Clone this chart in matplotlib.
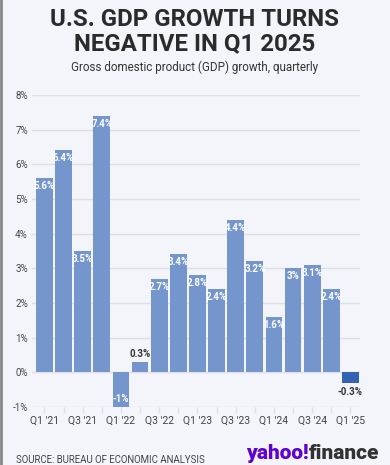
import matplotlib.pyplot as plt
import numpy as np

# quarterly GDP growth, annualized %
quarters = ["Q1 '21", "Q2 '21", "Q3 '21", "Q4 '21", "Q1 '22", "Q2 '22", "Q3 '22", "Q4 '22",
            "Q1 '23", "Q2 '23", "Q3 '23", "Q4 '23", "Q1 '24", "Q2 '24", "Q3 '24", "Q4 '24", "Q1 '25"]
growth = [5.6, 6.4, 3.5, 7.4, -1, 0.3, 2.7, 3.4, 2.8, 2.4, 4.4, 3.2, 1.6, 3, 3.1, 2.4, -0.3]
labels = ['5.6%', '6.4%', '3.5%', '7.4%', '-1%', '0.3%', '2.7%', '3.4%', '2.8%', '2.4%',
          '4.4%', '3.2%', '1.6%', '3%', '3.1%', '2.4%', '-0.3%']
yticks = [-1, 0, 1, 2, 3, 4, 5, 6, 7, 8]

bg = '#f3f5fa'
bar_col = '#7496cc'
last_col = '#3463b4'

plt.rcParams['font.family'] = ['Roboto', 'DejaVu Sans']

fig = plt.figure(figsize=(3.9, 4.65), dpi=100, facecolor=bg)
ax = fig.add_axes([32/390, 1 - 407/465, (360-32)/390, (407-95)/465])
ax.set_facecolor(bg)

x = np.arange(len(growth))
cols = [bar_col] * (len(growth) - 1) + [last_col]
ax.bar(x, growth, width=0.88, color=cols, zorder=3)

for xi, v, lab in zip(x, growth, labels):
    if abs(v) < 0.5:
        if v >= 0:
            ax.text(xi, v + 0.08, lab, ha='center', va='bottom', fontsize=7,
                    fontweight='bold', color='#333333', zorder=4)
        else:
            ax.text(xi, v - 0.12, lab, ha='center', va='top', fontsize=7,
                    fontweight='bold', color='#333333', zorder=4)
    elif v > 0:
        ax.text(xi, v - 0.08, lab, ha='center', va='top', fontsize=7,
                fontweight='bold', color='white', zorder=4)
    else:
        ax.text(xi, v + 0.08, lab, ha='center', va='bottom', fontsize=7,
                fontweight='bold', color='white', zorder=4)

ax.set_ylim(-1, 8)
ax.set_xlim(-0.65, 16.5)
ax.set_yticks(yticks)
ax.set_yticklabels([f'{t}%' for t in yticks], fontsize=7, color='#444444')
ax.yaxis.grid(True, color='#dcdfe6', linewidth=1, zorder=0)
ax.tick_params(axis='y', length=0, pad=3)
ax.set_xticks(x)
ax.set_xticklabels([q if i % 2 == 0 else '' for i, q in enumerate(quarters)],
                   fontsize=7.5, color='#444444')
ax.tick_params(axis='x', length=4, color='#dcdfe6', width=1, pad=2)
for s in ax.spines.values():
    s.set_visible(False)

fig.text(0.5, 1 - 20/465, 'U.S. GDP GROWTH TURNS', ha='center', va='center',
         fontsize=17.3, fontweight='bold', color='#2b2b2b')
fig.text(0.5, 1 - 44/465, 'NEGATIVE IN Q1 2025', ha='center', va='center',
         fontsize=17.3, fontweight='bold', color='#2b2b2b')
fig.text(0.5, 1 - 67/465, 'Gross domestic product (GDP) growth, quarterly',
         ha='center', va='center', fontsize=8.4, color='#333333')
fig.text(16/390, 1 - 460/465, 'SOURCE: BUREAU OF ECONOMIC ANALYSIS', ha='left',
         va='center', fontsize=6.9, color='#444444')

# yahoo!finance wordmark as text
fig.canvas.draw()
r = fig.canvas.get_renderer()
t1 = fig.text(246/390, 1 - 453/465, 'yahoo!', ha='left', va='center', fontsize=15,
              fontweight='black', color='#6001d2')
bb = t1.get_window_extent(renderer=r)
fig.text(bb.x1 / fig.bbox.width, 1 - 453/465, 'finance', ha='left', va='center',
         fontsize=15, fontweight='black', color='#333333')

# gray frame line on the left edge
fig.add_artist(plt.Line2D([0.003, 0.003], [0, 1], color='#888888', linewidth=2,
                          transform=fig.transFigure))

fig.savefig('out.png', dpi=100, facecolor=bg)
